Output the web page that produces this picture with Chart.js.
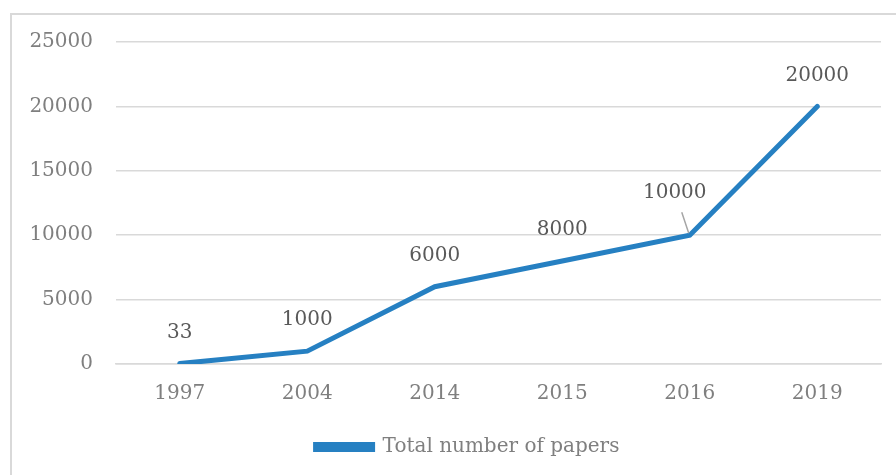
<!DOCTYPE html>
<html>
<head>
<meta charset="utf-8">
<script src="https://cdn.jsdelivr.net/npm/chart.js@4"></script>
<style>
  body { margin: 0; background: #fff; }
  #frame { position: absolute; left: 10px; top: 13px; width: 900px; height: 470px;
           border-top: 2px solid #d9d9d9; border-left: 2px solid #d9d9d9; }
  #myChart { position: absolute; left: 0; top: 0; }
</style>
</head>
<body>
<div id="frame"></div>
<canvas id="myChart" width="896" height="475"></canvas>
<script>
const years = ["1997", "2004", "2014", "2015", "2016", "2019"];
const papers = [33, 1000, 6000, 8000, 10000, 20000];
const yTicks = [0, 5000, 10000, 15000, 20000, 25000];

const lineColor = "#2680c2";
const font = "'DejaVu Serif', serif";

// labels above the points; the 2016 one is pushed aside with a leader line
const valueLabels = {
  id: "valueLabels",
  afterDatasetsDraw(chart) {
    const c = chart.ctx;
    const meta = chart.getDatasetMeta(0);
    c.save();
    c.font = "20px " + font;
    c.fillStyle = "#595959";
    c.textAlign = "center";
    c.textBaseline = "middle";
    meta.data.forEach((pt, i) => {
      let dx = 0, dy = -31;
      if (i === 4) {
        dx = -15; dy = -42;
        c.strokeStyle = "#a6a6a6";
        c.lineWidth = 1.5;
        c.beginPath();
        c.moveTo(pt.x - 8, pt.y - 23);
        c.lineTo(pt.x - 1, pt.y - 2);
        c.stroke();
      }
      c.fillText(String(papers[i]), pt.x + dx, pt.y + dy);
    });
    c.restore();
  },
};

// nudge the legend a bit to the right, like the original
const legendShift = {
  id: "legendShift",
  afterLayout(chart) {
    if (chart.legend) {
      chart.legend.left += 12;
      chart.legend.right += 12;
    }
  },
};

const ctx = document.getElementById("myChart").getContext("2d");
const chart = new Chart(ctx, {
  type: "line",
  data: {
    labels: years,
    datasets: [
      {
        label: "Total number of papers",
        data: papers,
        borderColor: lineColor,
        backgroundColor: lineColor,
        borderWidth: 5,
        pointRadius: 0,
        tension: 0,
        borderCapStyle: "round",
        borderJoinStyle: "miter",
      },
    ],
  },
  options: {
    responsive: false,
    devicePixelRatio: 1,
    animation: false,
    layout: {
      padding: { left: 30, right: 15, top: 42, bottom: 8 },
    },
    plugins: {
      legend: {
        position: "bottom",
        labels: {
          color: "#7f7f7f",
          font: { family: font, size: 20 },
          boxWidth: 57,
          boxHeight: 5,
          padding: 10,
        },
      },
      tooltip: { enabled: false },
    },
    scales: {
      x: {
        offset: true,
        grid: { display: false },
        border: { color: "#d9d9d9", width: 1.5 },
        afterFit(scale) {
          scale.height += 11;
        },
        ticks: {
          color: "#7f7f7f",
          font: { family: font, size: 20 },
          padding: 10,
        },
      },
      y: {
        min: 0,
        max: 25000,
        afterBuildTicks(scale) {
          scale.ticks = yTicks.map((v) => ({ value: v }));
        },
        afterFit(scale) {
          scale.width = 86;
        },
        grid: { color: "#d9d9d9", lineWidth: 1.5, drawTicks: false },
        border: { display: false },
        ticks: {
          color: "#7f7f7f",
          font: { family: font, size: 20 },
          padding: 23,
          callback: (v) => String(v),
        },
      },
    },
  },
  plugins: [valueLabels, legendShift],
});
</script>
</body>
</html>
